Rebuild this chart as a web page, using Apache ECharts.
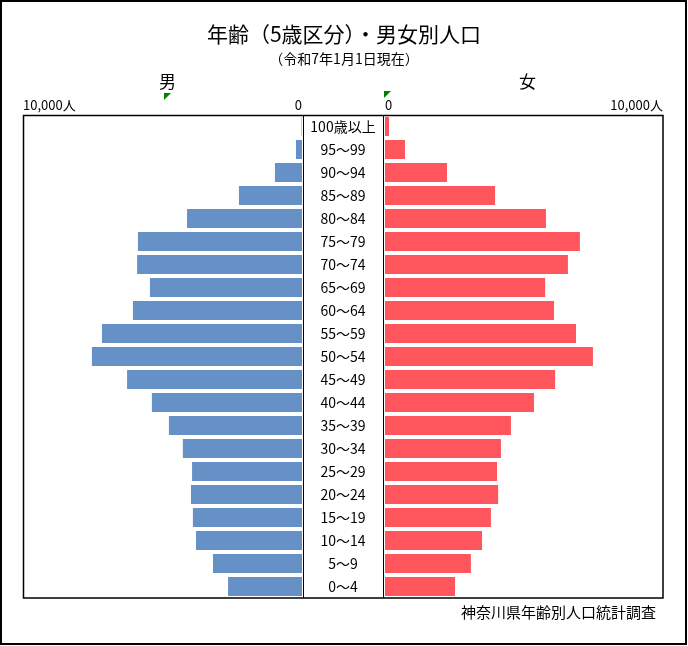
<!DOCTYPE html>
<html>
<head>
<meta charset="utf-8">
<script src="https://cdn.jsdelivr.net/npm/echarts@6/dist/echarts.min.js"></script>
<style>
html,body{margin:0;padding:0;background:#fff;}
#c{width:688px;height:646px;}
</style>
</head>
<body>
<div id="c"></div>
<script>
// Age groups, bottom to top
const ageGroups = ['0～4','5～9','10～14','15～19','20～24','25～29','30～34','35～39','40～44','45～49','50～54','55～59','60～64','65～69','70～74','75～79','80～84','85～89','90～94','95～99','100歳以上'];
const male   = [2650,3190,3800,3910,3980,3940,4270,4770,5380,6270,7530,7170,6060,5450,5910,5880,4120,2260,970,215,15];
const female = [2520,3090,3490,3810,4070,4030,4170,4530,5360,6120,7480,6870,6080,5760,6580,7010,5790,3960,2230,720,145];
const axisMax = 10000;
const axisInterval = 10000;
const titleText = '年齢（5歳区分）・男女別人口';
const subtitleText = '（令和7年1月1日現在）';
const sexLabels = ['男','女'];
const sourceText = '神奈川県年齢別人口統計調査';

const FONT = '"Noto Sans CJK JP", "Noto Sans", sans-serif';
const fmt = v => v === 0 ? '0' : v.toLocaleString('en-US') + '人';

const chart = echarts.init(document.getElementById('c'), null, {renderer:'canvas'});
chart.setOption({
  animation:false,
  backgroundColor:'#fff',
  textStyle:{fontFamily:FONT},
  title:[
    {text:titleText, left:'center', top:19, textStyle:{fontSize:21, fontWeight:'normal', color:'#000', fontFamily:FONT}},
    {text:subtitleText, left:'center', top:47, textStyle:{fontSize:14, fontWeight:'normal', color:'#000', fontFamily:FONT}},
    {text:sexLabels[0], left:154, top:68, textStyle:{fontSize:17, fontWeight:'normal', color:'#000', fontFamily:FONT}},
    {text:sexLabels[1], left:514, top:68, textStyle:{fontSize:17, fontWeight:'normal', color:'#000', fontFamily:FONT}},
    {text:sourceText, right:27, top:600, textStyle:{fontSize:15, fontWeight:'normal', color:'#000', fontFamily:FONT}}
  ],
  grid:[
    {left:23, top:115, width:279, height:483, containLabel:false},
    {left:385, top:115, width:278, height:483, containLabel:false}
  ],
  xAxis:[
    {gridIndex:0, type:'value', position:'top', inverse:true, min:0, max:axisMax, interval:axisInterval,
     axisLine:{show:false}, axisTick:{show:false}, splitLine:{show:false},
     axisLabel:{formatter:fmt, fontSize:13, color:'#000', margin:3, alignMinLabel:'right', alignMaxLabel:'left', fontFamily:FONT}},
    {gridIndex:1, type:'value', position:'top', min:0, max:axisMax, interval:axisInterval,
     axisLine:{show:false}, axisTick:{show:false}, splitLine:{show:false},
     axisLabel:{formatter:fmt, fontSize:13, color:'#000', margin:3, alignMinLabel:'left', alignMaxLabel:'right', fontFamily:FONT}}
  ],
  yAxis:[
    {gridIndex:0, type:'category', data:ageGroups, position:'right',
     axisLine:{show:false}, axisTick:{show:false},
     axisLabel:{align:'center', margin:41, fontSize:14, color:'#000', interval:0, fontFamily:FONT}},
    {gridIndex:1, type:'category', data:ageGroups, position:'left',
     axisLine:{show:false}, axisTick:{show:false}, axisLabel:{show:false}}
  ],
  series:[
    {type:'bar', xAxisIndex:0, yAxisIndex:0, data:male, barWidth:19, itemStyle:{color:'#6691C7'}},
    {type:'bar', xAxisIndex:1, yAxisIndex:1, data:female, barWidth:19, itemStyle:{color:'#FF555C'}}
  ],
  graphic:[
    {type:'rect', shape:{x:1, y:1, width:685, height:643}, style:{fill:null, stroke:'#000', lineWidth:2}, silent:true},
    {type:'rect', shape:{x:23.5, y:115.5, width:639.5, height:482.5}, style:{fill:null, stroke:'#000', lineWidth:1.5}, silent:true},
    {type:'line', shape:{x1:303.5, y1:115, x2:303.5, y2:598}, style:{stroke:'#000', lineWidth:1}, silent:true},
    {type:'line', shape:{x1:383.5, y1:115, x2:383.5, y2:598}, style:{stroke:'#000', lineWidth:1}, silent:true},
    {type:'polygon', shape:{points:[[164,93],[171,93],[164,100]]}, style:{fill:'#008000'}, silent:true},
    {type:'polygon', shape:{points:[[384,91],[391,91],[384,98]]}, style:{fill:'#008000'}, silent:true}
  ]
});
</script>
</body>
</html>
